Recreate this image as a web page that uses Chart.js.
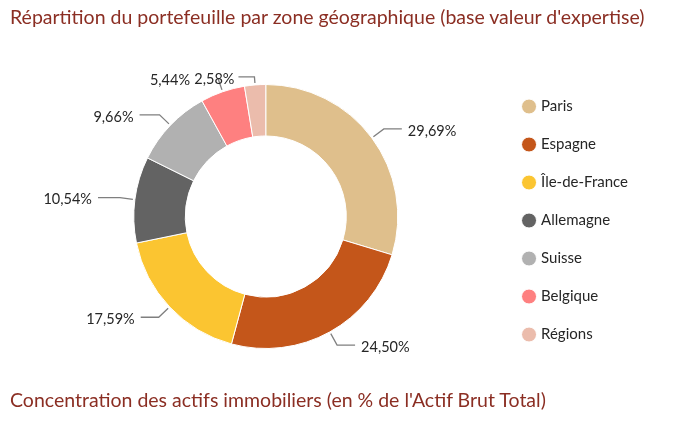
<!DOCTYPE html>
<html lang="fr">
<head>
<meta charset="utf-8">
<script src="https://cdn.jsdelivr.net/npm/chart.js@4"></script>
<style>
  html, body { margin: 0; padding: 0; background: #fff; }
  #page { position: relative; width: 692px; height: 437px; overflow: hidden; }
  .title { position: absolute; left: 10px; font-family: Lato, sans-serif; font-size: 19.5px; color: #8b2e23; white-space: nowrap; }
  #top-title { top: 5px; }
  #bottom-title { top: 388px; }
  #chart-box { position: absolute; left: 0; top: -2px; width: 692px; height: 437px; }
</style>
</head>
<body>
<div id="page">
  <div id="chart-box"><canvas id="zone-chart"></canvas></div>
  <div class="title" id="top-title">Répartition du portefeuille par zone géographique (base valeur d'expertise)</div>
  <div class="title" id="bottom-title">Concentration des actifs immobiliers (en % de l'Actif Brut Total)</div>
</div>
<script>
// Portfolio split by geographic zone (% of appraisal value)
const zones = ['Paris', 'Espagne', 'Île-de-France', 'Allemagne', 'Suisse', 'Belgique', 'Régions'];
const shares = [29.69, 24.50, 17.59, 10.54, 9.66, 5.44, 2.58];
const zoneColors = ['#dfbf8c', '#c4561a', '#fbc531', '#636363', '#b1b1b1', '#fe8080', '#ebbcac'];

// Leader line tweaks per slice (elbow length, horizontal length, text gap)
const leaderElbow = [15, 15, 15, 15, 15, 14, 8];
const leaderRun = [18, 18, 18, 22, 20, 0, 16];
const leaderGap = [6, 6, 6, 6, 6, 28, 4];

function fmtPct(v) {
  return v.toFixed(2).replace('.', ',') + '%';
}

// draws the outside labels with their elbow lines, from the arc geometry
const outsideLabels = {
  id: 'outsideLabels',
  afterDatasetsDraw(chart) {
    const ctx = chart.ctx;
    const meta = chart.getDatasetMeta(0);
    ctx.save();
    ctx.font = '14.5px Lato, sans-serif';
    ctx.textBaseline = 'middle';
    ctx.strokeStyle = '#7f7f7f';
    ctx.lineWidth = 1.3;
    meta.data.forEach((arc, i) => {
      const p = arc.getProps(['x', 'y', 'startAngle', 'endAngle', 'outerRadius'], true);
      const mid = (p.startAngle + p.endAngle) / 2;
      const cos = Math.cos(mid), sin = Math.sin(mid);
      const r0 = p.outerRadius + 2;
      const r1 = p.outerRadius + leaderElbow[i];
      const x0 = p.x + cos * r0, y0 = p.y + sin * r0;
      const x1 = p.x + cos * r1, y1 = p.y + sin * r1;
      const dir = cos >= 0 ? 1 : -1;
      const x2 = x1 + dir * leaderRun[i];

      ctx.beginPath();
      ctx.moveTo(x0, y0);
      ctx.lineTo(x1, y1);
      if (leaderRun[i] > 0) ctx.lineTo(x2, y1);
      ctx.stroke();

      ctx.fillStyle = '#262626';
      ctx.textAlign = dir > 0 ? 'left' : 'right';
      ctx.fillText(fmtPct(shares[i]), x2 + dir * leaderGap[i], y1 + 2);
    });
    ctx.restore();
  }
};

new Chart(document.getElementById('zone-chart'), {
  type: 'doughnut',
  data: {
    labels: zones,
    datasets: [{
      data: shares,
      backgroundColor: zoneColors,
      borderColor: '#ffffff',
      borderWidth: 1
    }]
  },
  options: {
    responsive: true,
    maintainAspectRatio: false,
    animation: false,
    radius: 132,
    cutout: '61%',
    layout: {
      padding: { left: 30, right: 54, top: 0, bottom: 0 }
    },
    plugins: {
      legend: {
        position: 'right',
        title: {
          display: true,
          text: ' ',
          padding: 0,
          font: { size: 6.7 }
        },
        labels: {
          usePointStyle: true,
          pointStyle: 'circle',
          boxWidth: 9,
          boxHeight: 10.6,
          padding: 23,
          color: '#262626',
          font: { family: 'Lato, sans-serif', size: 15 }
        }
      },
      tooltip: { enabled: false }
    }
  },
  plugins: [outsideLabels]
});
</script>
</body>
</html>
